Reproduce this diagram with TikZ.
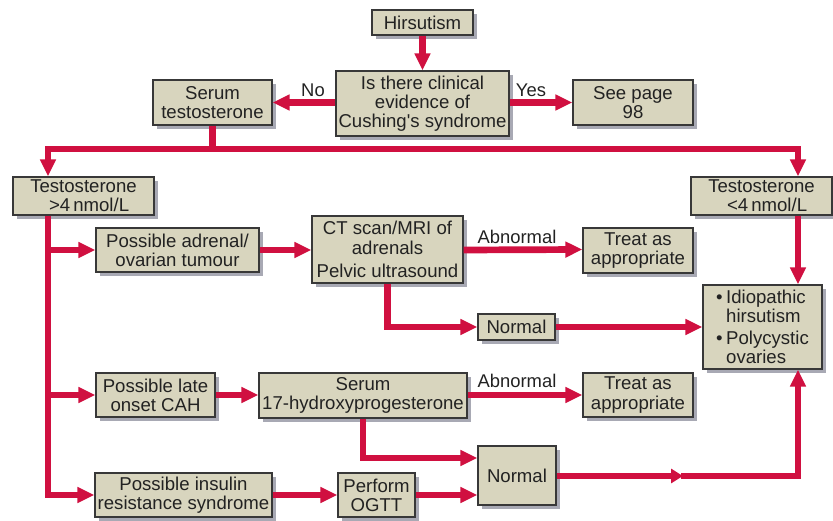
\documentclass[tikz,border=0pt]{standalone}
\usepackage{fontspec}
\setmainfont{Liberation Sans}[Ligatures=TeXOff]
\usetikzlibrary{arrows.meta,shadows,calc}
\definecolor{fc}{RGB}{216,213,190}
\definecolor{rc}{RGB}{208,16,64}
\definecolor{sc}{RGB}{168,169,180}
\definecolor{tc}{RGB}{34,34,34}
\tikzset{
  box/.style={draw=tc!90, line width=1.1pt, fill=fc, inner sep=0pt, align=center,
    text=tc, font=\fontsize{18.6}{19.2}\selectfont,
    drop shadow={shadow xshift=4pt, shadow yshift=-4pt, fill=sc, opacity=1}},
  conn/.style={draw=rc, line width=6.7pt},
  arr/.style={conn, -{Triangle[length=17pt,width=15pt]}},
  arrs/.style={conn, -{Triangle[length=12pt,width=14pt]}},
  lab/.style={text=tc, font=\fontsize{18.4}{19}\selectfont, inner sep=0pt}
}
\begin{document}
\begin{tikzpicture}[x=1pt,y=-1pt]
\useasboundingbox (0,0) rectangle (833,521);
\coordinate (lx) at (48,0);
\coordinate (rx) at (798,0);
% boxes
\node[box, minimum width=101, minimum height=25] (hir) at (422.5,22.5) {Hirsutism};
\node[box, minimum width=173, minimum height=65] (cush) at (422.5,103.5) {Is there clinical\\evidence of\\Cushing's syndrome};
\node[box, minimum width=119, minimum height=45] (serum) at (212.5,102.5) {Serum\\testosterone};
\node[box, minimum width=120, minimum height=45] (see) at (633,102.5) {See page\\98};
\node[box, minimum width=141, minimum height=38] (tgt) at (83.5,196) {Testosterone\\\hspace{0.6em}>4\,nmol/L};
\node[box, minimum width=141, minimum height=38] (tlt) at (761.5,196) {Testosterone\\\hspace{0.6em}<4\,nmol/L};
\node[box, minimum width=163, minimum height=44] (adr) at (177.5,250) {Possible adrenal/\\ovarian tumour};
\node[box, minimum width=151, minimum height=67] (ct) at (387.5,249.5) {CT scan/MRI of\\adrenals\\[4pt]Pelvic ultrasound};
\node[box, minimum width=110, minimum height=45] (tr1) at (638,250.5) {Treat as\\appropriate};
\node[box, minimum width=77, minimum height=26] (n1) at (516.5,327) {Normal};
\node[box, minimum width=119, minimum height=84, align=left] (idio) at (762.5,327)
  {\makebox[10pt][l]{\textbullet}Idiopathic\\\hspace*{10pt}hirsutism\\[3pt]\makebox[10pt][l]{\textbullet}Polycystic\\\hspace*{10pt}ovaries};
\node[box, minimum width=119, minimum height=44] (cah) at (155.5,395) {Possible late\\onset CAH};
\node[box, minimum width=208, minimum height=45] (ohp) at (363,395.5) {Serum\\17-hydroxyprogesterone};
\node[box, minimum width=110, minimum height=44] (tr2) at (638,395) {Treat as\\appropriate};
\node[box, minimum width=78, minimum height=59] (n2) at (517,475.5) {Normal};
\node[box, minimum width=177, minimum height=44] (ins) at (183.5,495) {Possible insulin\\resistance syndrome};
\node[box, minimum width=77, minimum height=44] (ogtt) at (376.5,495) {Perform\\OGTT};
% labels
\node[lab] (no) at (313,90) {No};
\node[lab] (yes) at (531,90) {Yes};
\node[lab] (ab1) at (517,237) {Abnormal};
\node[lab] (ab2) at (517,381) {Abnormal};
% connectors
\draw[arr] (hir.south) -- (cush.north);
\draw[arr] (cush.west |- serum.east) -- (serum.east);
\draw[arr] (cush.east |- see.west) -- (see.west);
\coordinate (bar) at (212.5,149);
\draw[conn] (serum.south) -- (bar);
\draw[arr] (bar) -| (tgt.north -| lx);
\draw[arr] (bar) -| (tlt.north -| rx);
\draw[arr] (tgt.south -| lx) |- (ins.west);
\draw[arr] (lx |- adr.west) -- (adr.west);
\draw[arr] (lx |- cah.west) -- (cah.west);
\draw[arr] (adr.east) -- (adr.east -| ct.west);
\draw[arr] (ct.east |- adr.east) -- (ct.east -| tr1.west);
\draw[arr] (ct.south) |- (n1.west);
\draw[arr] (n1.east) -- (idio.west);
\draw[arr] (tlt.south -| rx) -- (idio.north -| rx);
\draw[arr] (cah.east) -- (cah.east -| ohp.west);
\draw[arr] (ohp.east |- tr2.west) -- (tr2.west);
\draw[arr] (ohp.south) |- ($(n2.west)+(0,-17.5)$);
\draw[arr] (ins.east) -- (ins.east -| ogtt.west);
\draw[arr] (ogtt.east) -- (ogtt.east -| n2.west);
\coordinate (mid) at (683,476);
\draw[arrs] (n2.east |- mid) -- (mid);
\draw[arr] ($(mid)+(-2,0)$) -| (idio.south -| rx);
\end{tikzpicture}
\end{document}
